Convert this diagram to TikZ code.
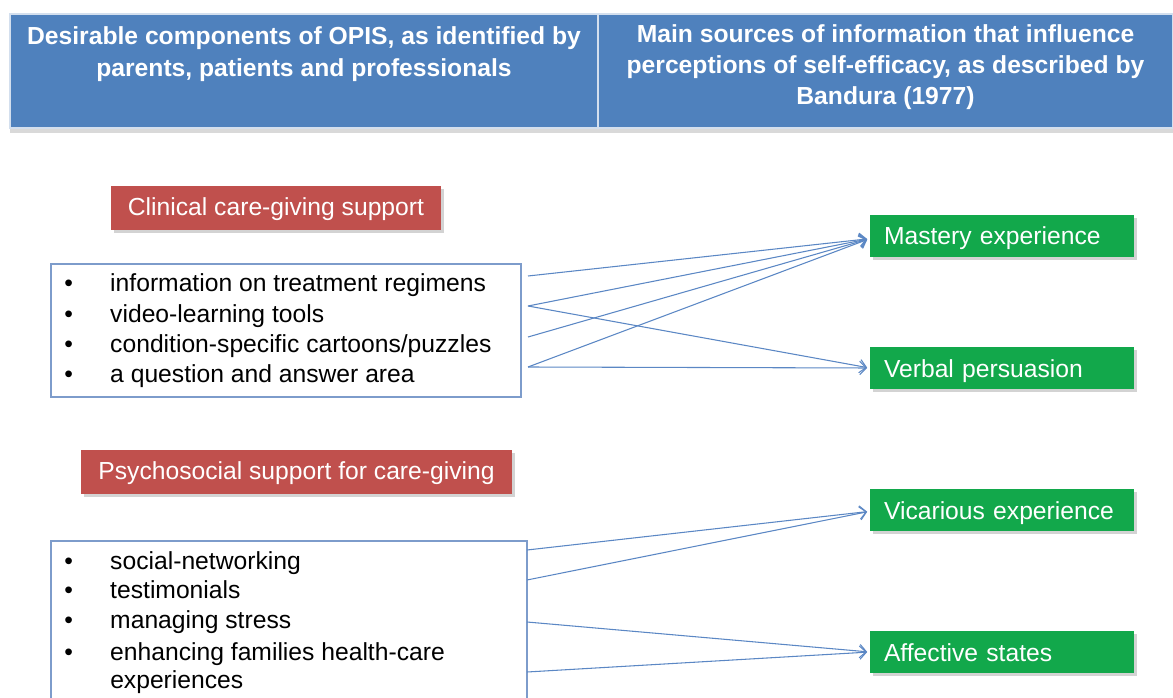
\documentclass[tikz,border=0pt]{standalone}
\usepackage{fontspec}
\setmainfont{Liberation Sans}
\usetikzlibrary{arrows.meta,shadows}
\definecolor{hdrblue}{HTML}{4F81BD}
\definecolor{grpred}{HTML}{C0504D}
\definecolor{srcgreen}{HTML}{12A84B}
\definecolor{linkblue}{HTML}{5B87C4}
\definecolor{listblue}{HTML}{7D9CCB}

\begin{document}
\begin{tikzpicture}[
		x=0.75pt, y=-0.75pt,
		every node/.style={font=\fontsize{18.5}{22}\selectfont},
		headcell/.style={draw=white!75!hdrblue, line width=0.8pt, fill=hdrblue, minimum height=85.5pt, inner sep=0pt,
			drop shadow={shadow xshift=0pt, shadow yshift=-4pt, opacity=0.3}},
		headtext/.style={text=white, font=\fontsize{18.5}{23.5}\selectfont\bfseries, align=center},
		groupbox/.style={fill=grpred, text=white, minimum width=247.5pt, minimum height=33pt, inner sep=0pt,
			text height=14pt, text depth=3pt,
			drop shadow={shadow xshift=2.5pt, shadow yshift=-2.5pt, opacity=0.35}},
		listbox/.style={draw=listblue, line width=0.8pt, inner sep=0pt},
		item/.style={anchor=base west, inner sep=0pt},
		sourcebox/.style={fill=srcgreen, text=white, minimum height=31.5pt, text width=177pt, inner xsep=10.5pt, align=left,
			text height=15.5pt, text depth=2pt,
			drop shadow={shadow xshift=2.5pt, shadow yshift=-2.5pt, opacity=0.35}},
		link/.style={draw=linkblue, line width=0.8pt, shorten >=2pt, -{Straight Barb[length=5pt,width=10pt]}}
	]
	\useasboundingbox (0,0) rectangle (1173,698);
	\clip (0,0) rectangle (1173,698);

	% Header
	\node[headcell, minimum width=441pt] (headl) at (304,71) {};
	\node[headcell, minimum width=431.25pt] (headr) at (885.5,71) {};
	\node[headtext] (headltext) at (304,54) {Desirable components of OPIS, as identified by\\parents, patients and professionals};
	\node[headtext] (headrtext) at (885.5,67) {Main sources of information that influence\\perceptions of self-efficacy, as described by\\Bandura (1977)};

	% Groups
	\node[groupbox] (clin) at (276,208) {Clinical care-giving support};
	\node[groupbox, minimum width=323.25pt] (psy) at (296.5,472) {Psychosocial support for care-giving};

	% Lists
	\node[listbox, minimum width=352.5pt, minimum height=99.75pt] (clinlist) at (286,330.5) {};
	\node[listbox, minimum width=357pt, minimum height=128.25pt] (psylist) at (289,626.5) {};

	\node[item] (cl1) at (64,292) {\makebox[34.5pt][l]{\textbullet}information on treatment regimens};
	\node[item] (cl2) at (64,322) {\makebox[34.5pt][l]{\textbullet}video-learning tools};
	\node[item] (cl3) at (64,352) {\makebox[34.5pt][l]{\textbullet}condition-specific cartoons/puzzles};
	\node[item] (cl4) at (64,382) {\makebox[34.5pt][l]{\textbullet}a question and answer area};

	\node[item] (ps1) at (64,569) {\makebox[34.5pt][l]{\textbullet}social-networking};
	\node[item] (ps2) at (64,598) {\makebox[34.5pt][l]{\textbullet}testimonials};
	\node[item] (ps3) at (64,628) {\makebox[34.5pt][l]{\textbullet}managing stress};
	\node[item] (ps4) at (64,660) {\makebox[34.5pt][l]{\textbullet}enhancing families health-care};
	\node[item] (ps5) at (110,688) {experiences};

	% Sources
	\node[sourcebox] (mast) at (1002,236) {Mastery experience};
	\node[sourcebox] (verb) at (1002,368) {Verbal persuasion};
	\node[sourcebox] (vica) at (1002,510) {Vicarious experience};
	\node[sourcebox] (affe) at (1002,652) {Affective states};

	% Connections
	\coordinate (c1) at (528,276);
	\coordinate (c2) at (528,306);
	\coordinate (c3) at (528,337);
	\coordinate (c4) at (528,367);
	\coordinate (p1) at (527,550);
	\coordinate (p2) at (527,580);
	\coordinate (p3) at (527,622);
	\coordinate (p4) at (527,672);

	\draw[link] (c1) -- ([yshift=-2pt]mast.west);
	\draw[link] (c2) -- ([yshift=-2pt]mast.west);
	\draw[link] (c3) -- ([yshift=-2pt]mast.west);
	\draw[link] (c4) -- ([yshift=-2pt]mast.west);
	\draw[link] (c2) -- (verb.west);
	\draw[link] (c4) -- (verb.west);
	\draw[link] (p1) -- ([yshift=-1pt]vica.west);
	\draw[link] (p2) -- ([yshift=-1pt]vica.west);
	\draw[link] (p3) -- (affe.west);
	\draw[link] (p4) -- (affe.west);
\end{tikzpicture}
\end{document}
